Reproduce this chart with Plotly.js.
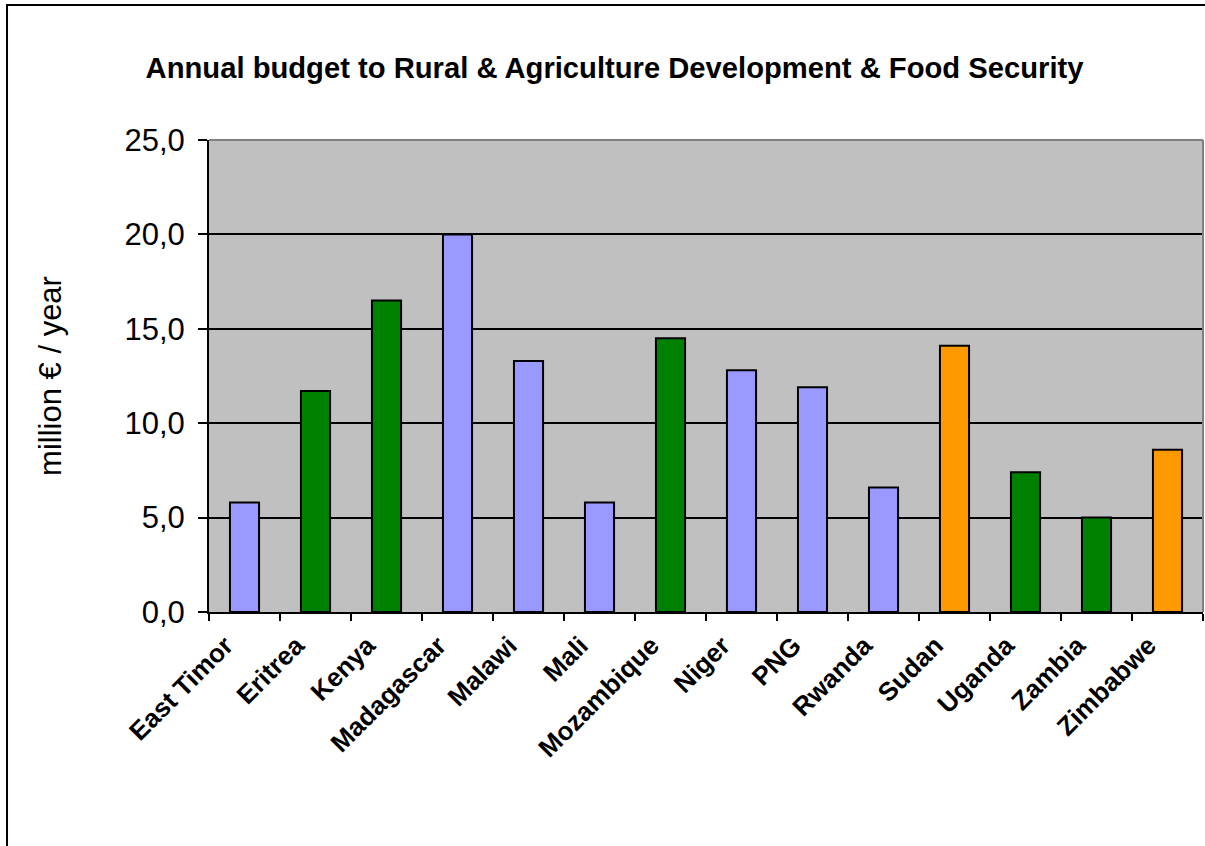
<!DOCTYPE html>
<html>
<head>
<meta charset="utf-8">
<script src="https://cdn.plot.ly/plotly-3.0.1.min.js"></script>
<style>html,body{margin:0;padding:0;background:#fff;}#chart{width:1205px;height:846px;}</style>
</head>
<body>
<div id="chart"></div>
<script>
const categories = ["East Timor","Eritrea","Kenya","Madagascar","Malawi","Mali","Mozambique","Niger","PNG","Rwanda","Sudan","Uganda","Zambia","Zimbabwe"];
const values = [5.8, 11.7, 16.5, 20.0, 13.3, 5.8, 14.5, 12.8, 11.9, 6.6, 14.1, 7.4, 5.0, 8.6];
const barColors = ["#9999FF","#008000","#008000","#9999FF","#9999FF","#9999FF","#008000","#9999FF","#9999FF","#9999FF","#FF9900","#008000","#008000","#FF9900"];
const titleText = "Annual budget to Rural & Agriculture Development & Food Security";
const yTitle = "million € / year";
const yTicks = [0, 5, 10, 15, 20, 25];

const font = "Liberation Sans, Arial, sans-serif";

const trace = {
  type: "bar",
  x: categories,
  y: values,
  marker: { color: barColors, line: { color: "#000000", width: 2 } },
  hoverinfo: "x+y"
};

const layout = {
  width: 1205, height: 846,
  margin: { l: 209, r: 2, t: 140, b: 234 },
  paper_bgcolor: "#FFFFFF",
  plot_bgcolor: "#C0C0C0",
  separators: ",.",
  bargap: 0.59,
  showlegend: false,
  title: {
    text: titleText,
    font: { family: font, size: 29.2, color: "#000000", weight: "bold" },
    x: 0.408, xref: "paper", xanchor: "center",
    y: 1 - 68 / 846, yref: "container", yanchor: "middle"
  },
  xaxis: {
    type: "category",
    tickangle: -45,
    tickfont: { family: font, size: 26, color: "#000000", weight: "bold" },
    ticks: "outside", tickson: "boundaries", ticklen: 7, tickwidth: 2, tickcolor: "#000000",
    ticklabelstandoff: 6,
    ticklabelshift: -19,
    showline: true, linecolor: "#000000", linewidth: 2,
    showgrid: false, zeroline: false
  },
  yaxis: {
    range: [0, 25],
    tickvals: yTicks,
    tickformat: ".1f",
    tickfont: { family: font, size: 31, color: "#000000" },
    ticks: "outside", ticklen: 9, tickwidth: 2, tickcolor: "#000000",
    ticklabelstandoff: 7,
    showline: true, linecolor: "#000000", linewidth: 2,
    showgrid: true, gridcolor: "#000000", gridwidth: 2,
    zeroline: false,
    title: { text: yTitle, font: { family: font, size: 31, color: "#000000" }, standoff: 54 }
  },
  shapes: [
    { type: "line", xref: "paper", yref: "paper", x0: 0, x1: 1, y0: 1, y1: 1, line: { color: "#808080", width: 2 }, layer: "above" },
    { type: "line", xref: "paper", yref: "paper", x0: 1, x1: 1, y0: 0, y1: 1, line: { color: "#808080", width: 2 }, layer: "above" },
    { type: "rect", xref: "paper", yref: "paper", x0: -0.2032, x1: 1.05, y0: -0.7, y1: 1.2860, line: { color: "#000000", width: 2 }, fillcolor: "rgba(0,0,0,0)", layer: "above" }
  ]
};

Plotly.newPlot("chart", [trace], layout, { displayModeBar: false, staticPlot: true });
</script>
</body>
</html>
